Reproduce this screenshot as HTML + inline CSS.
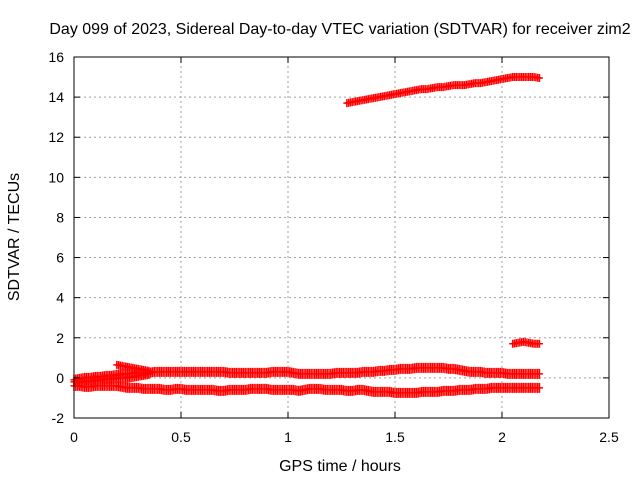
<!DOCTYPE html>
<html><head><meta charset="utf-8"><style>
body{margin:0;background:#fff}
svg text{font-family:"Liberation Sans",sans-serif;font-size:14px;fill:#000}
svg text.big{font-size:16px}
</style></head><body>
<svg id="chart" width="640" height="480" xmlns="http://www.w3.org/2000/svg">
<rect width="640" height="480" fill="#fff"/>
<text class="big" x="340" y="34" text-anchor="middle">Day 099 of 2023, Sidereal Day-to-day VTEC variation (SDTVAR) for receiver zim2</text>
<text class="big" x="340" y="471" text-anchor="middle">GPS time / hours</text>
<text class="big" transform="translate(19,237) rotate(-90)" text-anchor="middle">SDTVAR / TECUs</text>
<g id="grid"></g><g id="marks"></g><g id="axes"></g>
</svg>
<script>
const xTicks=[0,0.5,1,1.5,2,2.5];
const xTickLabels=["0","0.5","1","1.5","2","2.5"];
const yTicks=[-2,0,2,4,6,8,10,12,14,16];
const yTickLabels=["-2","0","2","4","6","8","10","12","14","16"];
const step=0.025;
const seriesAStart=0;
const seriesA=[-0.1,-0.05,0,0,0.05,0.05,0.1,0.1,0.15,0.2,0.2,0.25,0.25,0.25,0.25,0.3,0.3,0.3,0.3,0.3,0.3,0.3,0.3,0.3,0.3,0.3,0.3,0.3,0.3,0.25,0.25,0.25,0.25,0.25,0.25,0.25,0.25,0.3,0.3,0.3,0.3,0.25,0.2,0.2,0.2,0.2,0.2,0.2,0.2,0.25,0.25,0.25,0.25,0.25,0.3,0.3,0.3,0.35,0.35,0.4,0.4,0.45,0.45,0.45,0.5,0.5,0.5,0.5,0.5,0.5,0.45,0.45,0.4,0.35,0.3,0.3,0.3,0.25,0.25,0.25,0.25,0.2,0.2,0.2,0.2,0.2,0.2,0.2];
const seriesBStart=0;
const seriesB=[-0.4,-0.4,-0.45,-0.45,-0.4,-0.4,-0.4,-0.4,-0.4,-0.45,-0.5,-0.5,-0.5,-0.55,-0.55,-0.55,-0.55,-0.6,-0.6,-0.55,-0.55,-0.6,-0.6,-0.6,-0.6,-0.6,-0.6,-0.65,-0.65,-0.6,-0.6,-0.6,-0.6,-0.55,-0.55,-0.55,-0.55,-0.6,-0.6,-0.6,-0.6,-0.6,-0.65,-0.6,-0.55,-0.55,-0.55,-0.6,-0.6,-0.6,-0.6,-0.65,-0.65,-0.6,-0.6,-0.65,-0.7,-0.7,-0.7,-0.7,-0.75,-0.75,-0.75,-0.75,-0.75,-0.7,-0.7,-0.7,-0.7,-0.65,-0.65,-0.65,-0.6,-0.6,-0.6,-0.55,-0.55,-0.55,-0.5,-0.5,-0.5,-0.5,-0.5,-0.5,-0.5,-0.5,-0.5,-0.5];
const seriesCStart=0;
const seriesC=[-0.2,-0.2,-0.15,-0.15,-0.1,-0.1,-0.05,-0.05,0,0,0,0.05,0.1,0.15,0.2];
const seriesDStart=0.2;
const seriesD=[0.65,0.6,0.55,0.5,0.45,0.4,0.35];
const seriesEStart=1.275;
const seriesE=[13.7,13.75,13.8,13.85,13.9,13.95,14.0,14.05,14.1,14.15,14.2,14.25,14.3,14.35,14.4,14.4,14.45,14.5,14.5,14.55,14.6,14.6,14.6,14.65,14.7,14.7,14.75,14.8,14.85,14.9,14.95,15.0,15.0,15.0,15.0,15.0,14.95];
const seriesFStart=2.05;
const seriesF=[1.7,1.75,1.8,1.75,1.7,1.7];

const X0=74,X1=609,Y0=418,Y1=57;
const xs=v=>X0+(v-0)/(2.5-0)*(X1-X0);
const ys=v=>Y0-(v+2)/18*(Y0-Y1);
const NS="http://www.w3.org/2000/svg";
function mk(tag,attrs,parent){const e=document.createElementNS(NS,tag);for(const k in attrs)e.setAttribute(k,attrs[k]);parent.appendChild(e);return e;}
const grid=document.getElementById('grid'),axes=document.getElementById('axes'),marks=document.getElementById('marks');
xTicks.forEach((t,i)=>{
  const x=xs(t);
  if(i>0&&i<xTicks.length-1){const g=mk('line',{x1:x,x2:x,y1:Y0,y2:Y1,stroke:'#a0a0a0','stroke-dasharray':'2,3'},grid);
  
  }
  mk('line',{x1:x,x2:x,y1:Y0,y2:Y0-6,stroke:'#000'},axes);
  mk('line',{x1:x,x2:x,y1:Y1,y2:Y1+6,stroke:'#000'},axes);
  const tx=mk('text',{x:x,y:Y0+24,'text-anchor':'middle'},axes);tx.textContent=xTickLabels[i];
  
  
});
yTicks.forEach((t,i)=>{
  const y=ys(t);
  if(i>0&&i<yTicks.length-1){const g=mk('line',{x1:X0,x2:X1,y1:y,y2:y,stroke:'#a0a0a0','stroke-dasharray':'2,3'},grid);
  
  }
  mk('line',{x1:X0,x2:X0+6,y1:y,y2:y,stroke:'#000'},axes);
  mk('line',{x1:X1,x2:X1-6,y1:y,y2:y,stroke:'#000'},axes);
  const tx=mk('text',{x:X0-10,y:y+5,'text-anchor':'end'},axes);tx.textContent=yTickLabels[i];
  
  
});
const frame=mk('rect',{x:X0,y:Y1,width:X1-X0,height:Y0-Y1,fill:'none',stroke:'#000'},axes);


function drawSeries(start,vals,name,half){
  const g=mk('g',{stroke:'#ff0000','stroke-width':1.5},marks);
  
  
  let d='';
  vals.forEach((v,i)=>{
    for(let s=0;s<3;s++){
      if(s>0&&i===vals.length-1)break;
      const t=start+i*step+s*step/3;
      const nv=i<vals.length-1?v+(vals[i+1]-v)*s/3:v;
      const x=xs(t),y=ys(nv);
      d+=`M${x-3.5},${y}h7M${x},${y-half}v${2*half}`;
    }
  });
  mk('path',{d:d,fill:'none'},g);
}
drawSeries(seriesAStart,seriesA,'series-upper-band',5);
drawSeries(seriesBStart,seriesB,'series-lower-band',5);
drawSeries(seriesCStart,seriesC,'series-middle-band',5);
drawSeries(seriesDStart,seriesD,'series-early-arc',4);
drawSeries(seriesEStart,seriesE,'series-high-arc',4);
drawSeries(seriesFStart,seriesF,'series-late-arc',4);
</script>
</body></html>
